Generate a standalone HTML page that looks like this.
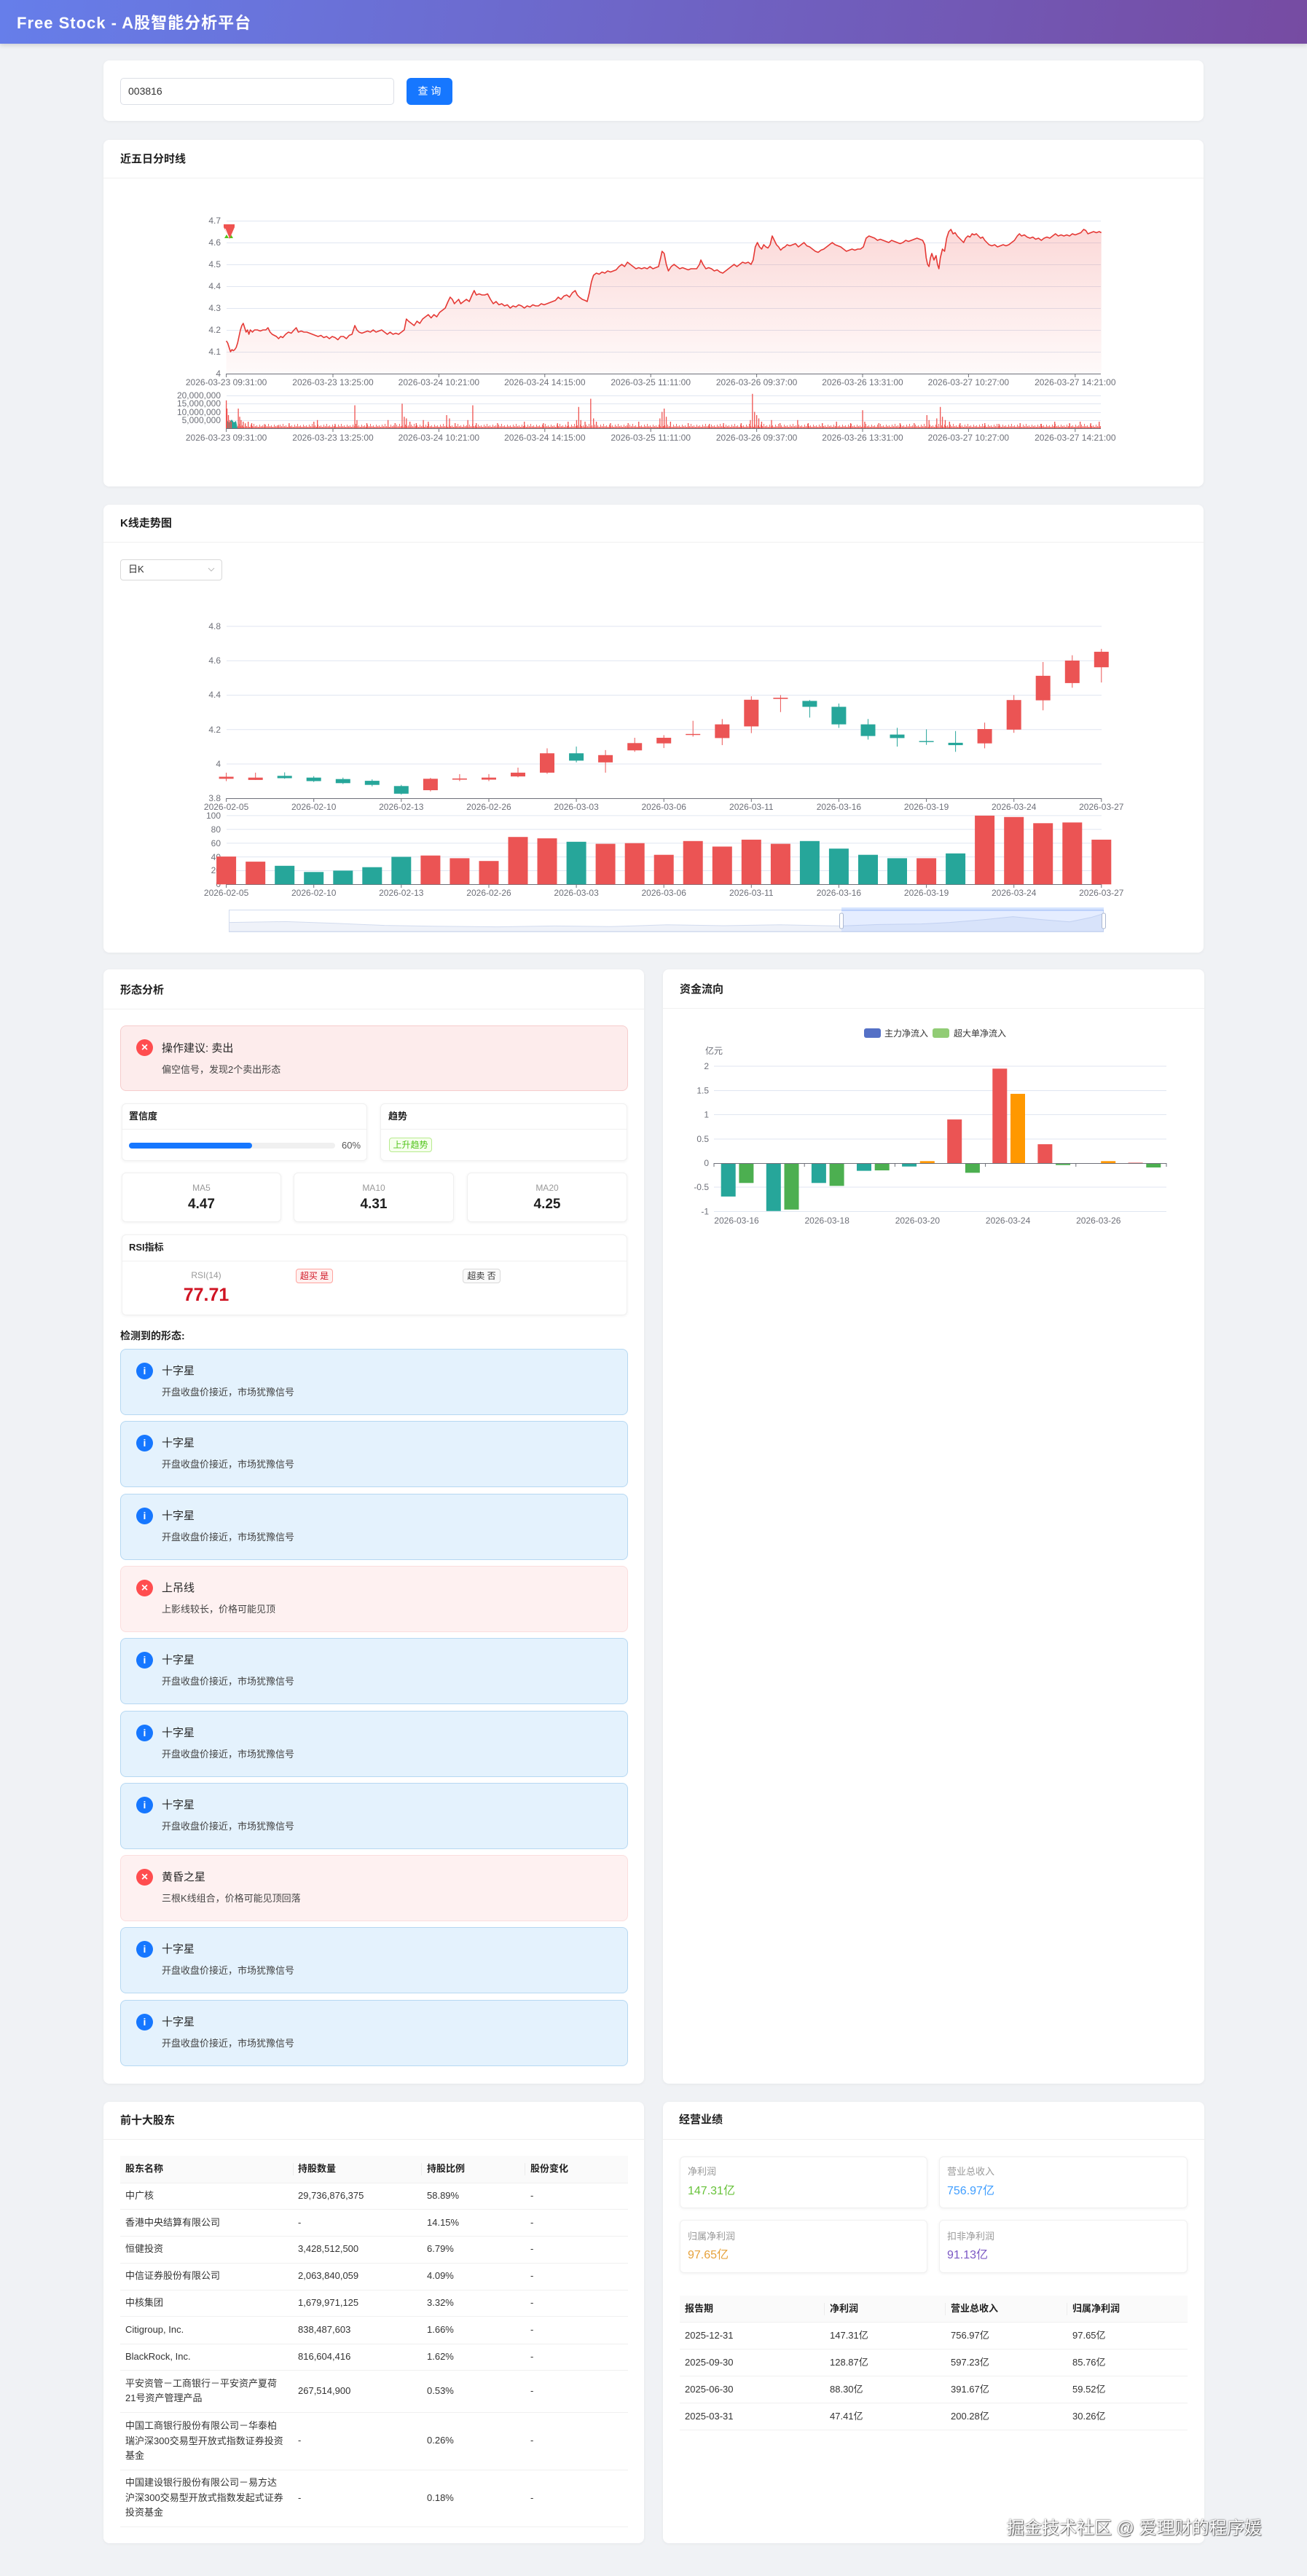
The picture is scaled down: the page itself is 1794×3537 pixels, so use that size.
<!DOCTYPE html>
<html><head><meta charset="utf-8"><title>Free Stock</title>
<style>
html,body{margin:0;padding:0}
body{width:1794px;height:3537px;background:#f0f2f5;position:relative;overflow:hidden;font-family:"Liberation Sans","Noto Sans CJK SC",sans-serif;color:#333}
.a{position:absolute;white-space:nowrap}
.card{position:absolute;background:#fff;border-radius:8px;box-shadow:0 1px 4px rgba(0,0,0,0.05)}
.ct{position:absolute;font-size:15px;font-weight:bold;color:#1f1f1f;line-height:20px;white-space:nowrap}
.hl{position:absolute;height:1px;background:#f0f0f0}
.sub{position:absolute;background:#fff;border:1px solid #f0f0f0;border-radius:6px;box-shadow:0 1px 4px rgba(0,0,0,0.06);box-sizing:border-box}
.box{position:absolute;left:165px;width:697px;height:91px;border-radius:8px;box-sizing:border-box}
.info{background:#e4f2fd;border:1px solid #b6d8f2}
.err{background:#fef1f1;border:1px solid #fbdede}
.ic{position:absolute;width:23px;height:23px;border-radius:50%;color:#fff;text-align:center;line-height:23px;font-size:14px;font-weight:bold}
.ib{background:#1677ff}
.ie{background:#ff4d4f;font-size:16px}
.pt{position:absolute;left:222px;font-size:15px;line-height:20px;color:#262626;white-space:nowrap}
.pd{position:absolute;left:222px;font-size:13px;line-height:20px;color:#444;white-space:nowrap}
.td{position:absolute;font-size:13px;line-height:20px;color:#333;white-space:nowrap}
.th{position:absolute;font-size:13px;line-height:20px;color:#1f1f1f;font-weight:bold;white-space:nowrap}
.tag{position:absolute;font-size:12px;line-height:18px;border-radius:4px;box-sizing:border-box;text-align:center;white-space:nowrap}
</style></head>
<body>

<!-- header -->
<div class="a" style="left:0;top:0;width:1794px;height:60px;background:linear-gradient(100deg,#667eea 0%,#764ba2 100%);box-shadow:0 2px 6px rgba(0,0,0,0.15)"></div>
<div class="a" style="left:23px;top:19px;font-size:22px;font-weight:bold;color:#fff;line-height:26px;letter-spacing:1px">Free Stock - A股智能分析平台</div>

<!-- search card -->
<div class="card" style="left:142px;top:83px;width:1510px;height:83px"></div>
<div class="a" style="left:165px;top:107px;width:376px;height:37px;border:1px solid #dcdfe6;border-radius:5px;box-sizing:border-box;background:#fff"></div>
<div class="a" style="left:176px;top:115px;font-size:14px;line-height:20px;color:#333">003816</div>
<div class="a" style="left:558px;top:107px;width:63px;height:37px;background:#1677ff;border-radius:6px;color:#fff;font-size:14px;line-height:37px;text-align:center">查 询</div>

<!-- intraday card -->
<div class="card" style="left:142px;top:192px;width:1510px;height:476px"></div>
<div class="ct" style="left:165px;top:209px">近五日分时线</div>
<div class="hl" style="left:142px;top:244px;width:1510px"></div>

<!-- K-line card -->
<div class="card" style="left:142px;top:693px;width:1510px;height:615px"></div>
<div class="ct" style="left:165px;top:709px">K线走势图</div>
<div class="hl" style="left:142px;top:744px;width:1510px"></div>
<div class="a" style="left:165px;top:768px;width:140px;height:29px;border:1px solid #d9d9d9;border-radius:4px;box-sizing:border-box;background:#fff"></div>
<div class="a" style="left:176px;top:772px;font-size:13px;line-height:20px;color:#333">日K</div>

<!-- pattern card -->
<div class="card" style="left:142px;top:1331px;width:742px;height:1530px"></div>
<div class="ct" style="left:165px;top:1350px">形态分析</div>
<div class="hl" style="left:142px;top:1385px;width:742px"></div>

<div class="a" style="left:165px;top:1408px;width:697px;height:90px;background:#fdecec;border:1px solid #f6cdcd;border-radius:8px;box-sizing:border-box"></div>
<div class="ic ie" style="left:187px;top:1427px">×</div>
<div class="pt" style="top:1430px">操作建议: 卖出</div>
<div class="pd" style="top:1459px">偏空信号，发现2个卖出形态</div>

<div class="sub" style="left:167px;top:1515px;width:337px;height:79px"></div>
<div class="th" style="left:177px;top:1523px">置信度</div>
<div class="hl" style="left:168px;top:1550px;width:335px"></div>
<div class="a" style="left:177px;top:1569px;width:283px;height:8px;border-radius:4px;background:#f0f0f0"></div>
<div class="a" style="left:177px;top:1569px;width:169px;height:8px;border-radius:4px;background:#1677ff"></div>
<div class="a" style="left:469px;top:1563px;font-size:13px;line-height:20px;color:#555">60%</div>

<div class="sub" style="left:522px;top:1515px;width:339px;height:79px"></div>
<div class="th" style="left:533px;top:1523px">趋势</div>
<div class="hl" style="left:523px;top:1550px;width:337px"></div>
<div class="tag" style="left:534px;top:1562px;width:59px;height:20px;background:#f6ffed;border:1px solid #b7eb8f;color:#52c41a">上升趋势</div>

<div class="sub" style="left:167px;top:1610px;width:219px;height:68px"></div>
<div class="sub" style="left:403px;top:1610px;width:220px;height:68px"></div>
<div class="sub" style="left:641px;top:1610px;width:220px;height:68px"></div>
<div class="a" style="left:167px;top:1622px;width:219px;text-align:center;font-size:12px;line-height:18px;color:#999">MA5</div>
<div class="a" style="left:403px;top:1622px;width:220px;text-align:center;font-size:12px;line-height:18px;color:#999">MA10</div>
<div class="a" style="left:641px;top:1622px;width:220px;text-align:center;font-size:12px;line-height:18px;color:#999">MA20</div>
<div class="a" style="left:167px;top:1642px;width:219px;text-align:center;font-size:19px;font-weight:bold;line-height:24px;color:#1f1f1f">4.47</div>
<div class="a" style="left:403px;top:1642px;width:220px;text-align:center;font-size:19px;font-weight:bold;line-height:24px;color:#1f1f1f">4.31</div>
<div class="a" style="left:641px;top:1642px;width:220px;text-align:center;font-size:19px;font-weight:bold;line-height:24px;color:#1f1f1f">4.25</div>

<div class="sub" style="left:167px;top:1695px;width:694px;height:111px"></div>
<div class="th" style="left:177px;top:1703px">RSI指标</div>
<div class="hl" style="left:168px;top:1731px;width:692px"></div>
<div class="a" style="left:233px;top:1742px;width:100px;text-align:center;font-size:12px;line-height:18px;color:#999">RSI(14)</div>
<div class="a" style="left:223px;top:1763px;width:120px;text-align:center;font-size:25px;font-weight:bold;line-height:30px;color:#cf1322">77.71</div>
<div class="tag" style="left:406px;top:1742px;width:51px;height:20px;background:#fff1f0;border:1px solid #ffa39e;color:#cf1322">超买 是</div>
<div class="tag" style="left:635px;top:1742px;width:52px;height:20px;background:#fafafa;border:1px solid #d9d9d9;color:#333">超卖 否</div>

<div class="a" style="left:165px;top:1824px;font-size:14px;font-weight:bold;line-height:20px;color:#1f1f1f">检测到的形态:</div>

<div class="box info" style="top:1852px"></div><div class="ic ib" style="left:187px;top:1871px">i</div><div class="pt" style="top:1873px">十字星</div><div class="pd" style="top:1902px">开盘收盘价接近，市场犹豫信号</div>
<div class="box info" style="top:1951px"></div><div class="ic ib" style="left:187px;top:1970px">i</div><div class="pt" style="top:1972px">十字星</div><div class="pd" style="top:2001px">开盘收盘价接近，市场犹豫信号</div>
<div class="box info" style="top:2051px"></div><div class="ic ib" style="left:187px;top:2070px">i</div><div class="pt" style="top:2072px">十字星</div><div class="pd" style="top:2101px">开盘收盘价接近，市场犹豫信号</div>
<div class="box err" style="top:2150px"></div><div class="ic ie" style="left:187px;top:2169px">×</div><div class="pt" style="top:2171px">上吊线</div><div class="pd" style="top:2200px">上影线较长，价格可能见顶</div>
<div class="box info" style="top:2249px"></div><div class="ic ib" style="left:187px;top:2268px">i</div><div class="pt" style="top:2270px">十字星</div><div class="pd" style="top:2299px">开盘收盘价接近，市场犹豫信号</div>
<div class="box info" style="top:2349px"></div><div class="ic ib" style="left:187px;top:2368px">i</div><div class="pt" style="top:2370px">十字星</div><div class="pd" style="top:2399px">开盘收盘价接近，市场犹豫信号</div>
<div class="box info" style="top:2448px"></div><div class="ic ib" style="left:187px;top:2467px">i</div><div class="pt" style="top:2469px">十字星</div><div class="pd" style="top:2498px">开盘收盘价接近，市场犹豫信号</div>
<div class="box err" style="top:2547px"></div><div class="ic ie" style="left:187px;top:2566px">×</div><div class="pt" style="top:2568px">黄昏之星</div><div class="pd" style="top:2597px">三根K线组合，价格可能见顶回落</div>
<div class="box info" style="top:2646px"></div><div class="ic ib" style="left:187px;top:2665px">i</div><div class="pt" style="top:2667px">十字星</div><div class="pd" style="top:2696px">开盘收盘价接近，市场犹豫信号</div>
<div class="box info" style="top:2746px"></div><div class="ic ib" style="left:187px;top:2765px">i</div><div class="pt" style="top:2767px">十字星</div><div class="pd" style="top:2796px">开盘收盘价接近，市场犹豫信号</div>

<!-- fund card -->
<div class="card" style="left:910px;top:1331px;width:743px;height:1530px"></div>
<div class="ct" style="left:933px;top:1349px">资金流向</div>
<div class="hl" style="left:910px;top:1384px;width:743px"></div>

<!-- shareholders card -->
<div class="card" style="left:142px;top:2886px;width:742px;height:606px"></div>
<div class="ct" style="left:165px;top:2902px">前十大股东</div>
<div class="hl" style="left:142px;top:2937px;width:742px"></div>
<div class="a" style="left:165px;top:2960px;width:697px;height:37px;background:#fafafa"></div>
<div class="a" style="left:402px;top:2970px;width:1px;height:17px;background:#ececec"></div>
<div class="a" style="left:578px;top:2970px;width:1px;height:17px;background:#ececec"></div>
<div class="a" style="left:720px;top:2970px;width:1px;height:17px;background:#ececec"></div>
<div class="th" style="left:172px;top:2968px">股东名称</div>
<div class="th" style="left:409px;top:2968px">持股数量</div>
<div class="th" style="left:586px;top:2968px">持股比例</div>
<div class="th" style="left:728px;top:2968px">股份变化</div>
<div class="hl" style="left:165px;top:2997px;width:697px"></div>
<div class="hl" style="left:165px;top:3033px;width:697px"></div>
<div class="hl" style="left:165px;top:3070px;width:697px"></div>
<div class="hl" style="left:165px;top:3107px;width:697px"></div>
<div class="hl" style="left:165px;top:3144px;width:697px"></div>
<div class="hl" style="left:165px;top:3180px;width:697px"></div>
<div class="hl" style="left:165px;top:3218px;width:697px"></div>
<div class="hl" style="left:165px;top:3254px;width:697px"></div>
<div class="hl" style="left:165px;top:3312px;width:697px"></div>
<div class="hl" style="left:165px;top:3391px;width:697px"></div>
<div class="hl" style="left:165px;top:3469px;width:697px"></div>

<div class="td" style="left:172px;top:3005px">中广核</div><div class="td" style="left:409px;top:3005px">29,736,876,375</div><div class="td" style="left:586px;top:3005px">58.89%</div><div class="td" style="left:728px;top:3005px">-</div>
<div class="td" style="left:172px;top:3042px">香港中央结算有限公司</div><div class="td" style="left:409px;top:3042px">-</div><div class="td" style="left:586px;top:3042px">14.15%</div><div class="td" style="left:728px;top:3042px">-</div>
<div class="td" style="left:172px;top:3078px">恒健投资</div><div class="td" style="left:409px;top:3078px">3,428,512,500</div><div class="td" style="left:586px;top:3078px">6.79%</div><div class="td" style="left:728px;top:3078px">-</div>
<div class="td" style="left:172px;top:3115px">中信证券股份有限公司</div><div class="td" style="left:409px;top:3115px">2,063,840,059</div><div class="td" style="left:586px;top:3115px">4.09%</div><div class="td" style="left:728px;top:3115px">-</div>
<div class="td" style="left:172px;top:3152px">中核集团</div><div class="td" style="left:409px;top:3152px">1,679,971,125</div><div class="td" style="left:586px;top:3152px">3.32%</div><div class="td" style="left:728px;top:3152px">-</div>
<div class="td" style="left:172px;top:3189px">Citigroup, Inc.</div><div class="td" style="left:409px;top:3189px">838,487,603</div><div class="td" style="left:586px;top:3189px">1.66%</div><div class="td" style="left:728px;top:3189px">-</div>
<div class="td" style="left:172px;top:3226px">BlackRock, Inc.</div><div class="td" style="left:409px;top:3226px">816,604,416</div><div class="td" style="left:586px;top:3226px">1.62%</div><div class="td" style="left:728px;top:3226px">-</div>
<div class="td" style="left:172px;top:3263px">平安资管－工商银行－平安资产夏荷<br>21号资产管理产品</div><div class="td" style="left:409px;top:3273px">267,514,900</div><div class="td" style="left:586px;top:3273px">0.53%</div><div class="td" style="left:728px;top:3273px">-</div>
<div class="td" style="left:172px;top:3321px;line-height:20.5px">中国工商银行股份有限公司－华泰柏<br>瑞沪深300交易型开放式指数证券投资<br>基金</div><div class="td" style="left:409px;top:3341px">-</div><div class="td" style="left:586px;top:3341px">0.26%</div><div class="td" style="left:728px;top:3341px">-</div>
<div class="td" style="left:172px;top:3399px;line-height:20.5px">中国建设银行股份有限公司－易方达<br>沪深300交易型开放式指数发起式证券<br>投资基金</div><div class="td" style="left:409px;top:3420px">-</div><div class="td" style="left:586px;top:3420px">0.18%</div><div class="td" style="left:728px;top:3420px">-</div>

<!-- performance card -->
<div class="card" style="left:910px;top:2886px;width:743px;height:606px"></div>
<div class="ct" style="left:932px;top:2901px">经营业绩</div>
<div class="hl" style="left:910px;top:2937px;width:743px"></div>
<div class="sub" style="left:933px;top:2961px;width:340px;height:71px"></div>
<div class="sub" style="left:1289px;top:2961px;width:341px;height:71px"></div>
<div class="sub" style="left:933px;top:3048px;width:340px;height:73px"></div>
<div class="sub" style="left:1289px;top:3048px;width:341px;height:73px"></div>
<div class="a" style="left:944px;top:2972px;font-size:13px;line-height:20px;color:#999">净利润</div>
<div class="a" style="left:944px;top:2998px;font-size:16px;line-height:22px;color:#67c23a">147.31亿</div>
<div class="a" style="left:1300px;top:2972px;font-size:13px;line-height:20px;color:#999">营业总收入</div>
<div class="a" style="left:1300px;top:2998px;font-size:16px;line-height:22px;color:#409eff">756.97亿</div>
<div class="a" style="left:944px;top:3061px;font-size:13px;line-height:20px;color:#999">归属净利润</div>
<div class="a" style="left:944px;top:3086px;font-size:16px;line-height:22px;color:#e6a23c">97.65亿</div>
<div class="a" style="left:1300px;top:3061px;font-size:13px;line-height:20px;color:#999">扣非净利润</div>
<div class="a" style="left:1300px;top:3086px;font-size:16px;line-height:22px;color:#7b57c4">91.13亿</div>

<div class="a" style="left:933px;top:3152px;width:697px;height:36px;background:#fafafa"></div>
<div class="a" style="left:1131px;top:3162px;width:1px;height:17px;background:#ececec"></div>
<div class="a" style="left:1297px;top:3162px;width:1px;height:17px;background:#ececec"></div>
<div class="a" style="left:1464px;top:3162px;width:1px;height:17px;background:#ececec"></div>
<div class="th" style="left:940px;top:3160px">报告期</div>
<div class="th" style="left:1139px;top:3160px">净利润</div>
<div class="th" style="left:1305px;top:3160px">营业总收入</div>
<div class="th" style="left:1472px;top:3160px">归属净利润</div>
<div class="hl" style="left:933px;top:3188px;width:697px"></div>
<div class="hl" style="left:933px;top:3225px;width:697px"></div>
<div class="hl" style="left:933px;top:3262px;width:697px"></div>
<div class="hl" style="left:933px;top:3299px;width:697px"></div>
<div class="hl" style="left:933px;top:3336px;width:697px"></div>
<div class="td" style="left:940px;top:3197px">2025-12-31</div><div class="td" style="left:1139px;top:3197px">147.31亿</div><div class="td" style="left:1305px;top:3197px">756.97亿</div><div class="td" style="left:1472px;top:3197px">97.65亿</div>
<div class="td" style="left:940px;top:3234px">2025-09-30</div><div class="td" style="left:1139px;top:3234px">128.87亿</div><div class="td" style="left:1305px;top:3234px">597.23亿</div><div class="td" style="left:1472px;top:3234px">85.76亿</div>
<div class="td" style="left:940px;top:3271px">2025-06-30</div><div class="td" style="left:1139px;top:3271px">88.30亿</div><div class="td" style="left:1305px;top:3271px">391.67亿</div><div class="td" style="left:1472px;top:3271px">59.52亿</div>
<div class="td" style="left:940px;top:3308px">2025-03-31</div><div class="td" style="left:1139px;top:3308px">47.41亿</div><div class="td" style="left:1305px;top:3308px">200.28亿</div><div class="td" style="left:1472px;top:3308px">30.26亿</div>

<!-- charts -->
<svg class="a" style="left:0;top:0" width="1794" height="3537" viewBox="0 0 1794 3537" font-family="Liberation Sans, sans-serif" font-size="12">
<defs>
<linearGradient id="ag" x1="0" y1="0" x2="0" y2="1">
<stop offset="0" stop-color="#ef5350" stop-opacity="0.03"/>
<stop offset="1" stop-color="#ef5350" stop-opacity="0.22"/>
</linearGradient>
<pattern id="vb" x="0" y="580" width="20" height="8" patternUnits="userSpaceOnUse">
<rect x="0" y="4" width="1" height="4" fill="#ef5350"/><rect x="2" y="6" width="1" height="2" fill="#ef5350"/>
<rect x="4" y="3" width="1" height="5" fill="#ef5350"/><rect x="6" y="5" width="1" height="3" fill="#ef5350"/>
<rect x="8" y="2" width="1" height="6" fill="#ef5350"/><rect x="10" y="5" width="1" height="3" fill="#ef5350"/>
<rect x="12" y="4" width="1" height="4" fill="#ef5350"/><rect x="14" y="6" width="1" height="2" fill="#ef5350"/>
<rect x="16" y="3" width="1" height="5" fill="#ef5350"/><rect x="18" y="5" width="1" height="3" fill="#ef5350"/>
</pattern>
</defs>

<!-- ===== intraday ===== -->
<g stroke="#e0e6f1" stroke-width="1">
<line x1="311" y1="303.5" x2="1511" y2="303.5"/><line x1="311" y1="333.5" x2="1511" y2="333.5"/>
<line x1="311" y1="363.5" x2="1511" y2="363.5"/><line x1="311" y1="393.5" x2="1511" y2="393.5"/>
<line x1="311" y1="423.5" x2="1511" y2="423.5"/><line x1="311" y1="453.5" x2="1511" y2="453.5"/>
<line x1="311" y1="483.5" x2="1511" y2="483.5"/>
<line x1="311" y1="543.5" x2="1511" y2="543.5"/><line x1="311" y1="554.5" x2="1511" y2="554.5"/>
<line x1="311" y1="566.5" x2="1511" y2="566.5"/><line x1="311" y1="577.5" x2="1511" y2="577.5"/>
</g>
<g fill="#6e7079" text-anchor="end">
<text x="303" y="307">4.7</text><text x="303" y="337">4.6</text><text x="303" y="367">4.5</text>
<text x="303" y="397">4.4</text><text x="303" y="427">4.3</text><text x="303" y="457">4.2</text>
<text x="303" y="487">4.1</text><text x="303" y="517">4</text>
<text x="303" y="547">20,000,000</text><text x="303" y="558">15,000,000</text>
<text x="303" y="570">10,000,000</text><text x="303" y="581">5,000,000</text>
</g>
<g transform="matrix(0.9694 0 0 -300 140 1713)">
<path fill="url(#ag)" d="M176,4.15 L178,4.14 180,4.12 182,4.10 184,4.11 186,4.105 188,4.11 190,4.12 192,4.14 194,4.17 196,4.20 198,4.22 200,4.23 202,4.21 204,4.19 206,4.20 208,4.18 210,4.20 213,4.19 216,4.20 220,4.20 224,4.195 228,4.20 232,4.20 235,4.21 238,4.19 241,4.18 244,4.175 247,4.17 250,4.16 253,4.17 256,4.165 260,4.18 264,4.19 268,4.185 272,4.20 275,4.21 278,4.19 282,4.195 286,4.19 290,4.19 294,4.185 298,4.18 302,4.175 306,4.17 310,4.175 314,4.165 318,4.17 322,4.16 326,4.17 330,4.165 334,4.155 338,4.17 342,4.17 346,4.16 350,4.175 354,4.18 358,4.22 361,4.20 364,4.19 368,4.185 372,4.19 376,4.195 380,4.19 384,4.20 388,4.19 392,4.195 396,4.20 400,4.19 404,4.18 408,4.19 412,4.18 416,4.185 420,4.18 424,4.19 428,4.20 431,4.25 434,4.24 438,4.23 442,4.22 446,4.24 450,4.23 454,4.25 458,4.26 462,4.27 466,4.255 470,4.27 474,4.26 478,4.28 482,4.29 486,4.30 490,4.33 493,4.35 496,4.34 499,4.32 502,4.33 505,4.34 508,4.32 512,4.33 516,4.34 520,4.33 524,4.36 527,4.38 530,4.36 534,4.365 538,4.36 542,4.36 546,4.365 550,4.34 554,4.32 558,4.33 562,4.315 566,4.32 570,4.31 574,4.315 578,4.30 582,4.31 586,4.305 590,4.315 594,4.31 598,4.30 602,4.31 606,4.305 610,4.315 614,4.31 618,4.31 622,4.32 626,4.315 630,4.32 634,4.325 638,4.33 642,4.335 646,4.35 650,4.34 654,4.355 658,4.36 662,4.35 666,4.37 670,4.38 673,4.36 676,4.35 680,4.34 684,4.335 687,4.33 690,4.37 693,4.42 696,4.45 700,4.46 704,4.455 708,4.465 712,4.46 716,4.47 720,4.465 724,4.47 728,4.475 732,4.49 736,4.50 740,4.49 744,4.51 748,4.50 752,4.49 756,4.48 760,4.485 764,4.48 768,4.485 772,4.48 776,4.49 780,4.48 784,4.485 788,4.49 791,4.53 793,4.56 796,4.55 799,4.50 802,4.47 806,4.49 810,4.50 814,4.49 818,4.48 822,4.485 826,4.48 830,4.475 834,4.48 838,4.48 842,4.48 846,4.50 848,4.52 851,4.50 855,4.48 859,4.485 863,4.48 867,4.47 871,4.475 875,4.465 879,4.46 883,4.47 887,4.48 891,4.49 895,4.50 899,4.49 903,4.50 907,4.51 911,4.505 915,4.51 919,4.50 922,4.52 925,4.58 928,4.60 931,4.58 934,4.57 937,4.59 940,4.58 943,4.575 946,4.59 949,4.63 952,4.61 955,4.59 958,4.58 961,4.565 964,4.575 967,4.58 970,4.59 974,4.585 978,4.59 982,4.595 986,4.58 990,4.59 994,4.60 998,4.585 1002,4.58 1006,4.57 1010,4.56 1014,4.555 1018,4.565 1022,4.57 1026,4.58 1030,4.59 1034,4.60 1038,4.59 1042,4.585 1046,4.58 1050,4.57 1054,4.56 1058,4.565 1062,4.57 1066,4.565 1070,4.57 1074,4.57 1078,4.58 1082,4.62 1086,4.63 1090,4.625 1094,4.62 1098,4.61 1102,4.615 1106,4.61 1110,4.605 1114,4.60 1118,4.61 1122,4.605 1126,4.60 1130,4.595 1134,4.60 1138,4.61 1142,4.605 1146,4.61 1150,4.615 1154,4.62 1158,4.615 1162,4.61 1165,4.59 1167,4.53 1169,4.50 1171,4.49 1173,4.53 1175,4.55 1178,4.52 1181,4.54 1183,4.50 1185,4.48 1187,4.53 1190,4.57 1193,4.56 1196,4.62 1199,4.65 1202,4.66 1205,4.64 1208,4.645 1211,4.63 1214,4.62 1217,4.61 1220,4.60 1223,4.62 1226,4.63 1229,4.625 1232,4.64 1235,4.635 1238,4.64 1241,4.63 1244,4.62 1247,4.625 1250,4.61 1253,4.60 1256,4.59 1260,4.585 1264,4.59 1268,4.58 1272,4.585 1276,4.59 1280,4.585 1284,4.59 1288,4.60 1292,4.61 1296,4.63 1299,4.64 1302,4.63 1306,4.635 1310,4.625 1314,4.62 1318,4.625 1322,4.615 1326,4.62 1330,4.61 1334,4.62 1338,4.625 1342,4.62 1346,4.63 1350,4.64 1354,4.63 1358,4.635 1362,4.63 1366,4.635 1370,4.63 1374,4.64 1378,4.635 1382,4.64 1386,4.645 1390,4.66 1393,4.655 1396,4.64 1400,4.645 1404,4.65 1408,4.645 1412,4.65 1415,4.645 L1415,4 L176,4 Z"/>
<path fill="none" stroke="#e53935" stroke-width="1.6" vector-effect="non-scaling-stroke" stroke-linejoin="round" d="M176,4.15 L178,4.14 180,4.12 182,4.10 184,4.11 186,4.105 188,4.11 190,4.12 192,4.14 194,4.17 196,4.20 198,4.22 200,4.23 202,4.21 204,4.19 206,4.20 208,4.18 210,4.20 213,4.19 216,4.20 220,4.20 224,4.195 228,4.20 232,4.20 235,4.21 238,4.19 241,4.18 244,4.175 247,4.17 250,4.16 253,4.17 256,4.165 260,4.18 264,4.19 268,4.185 272,4.20 275,4.21 278,4.19 282,4.195 286,4.19 290,4.19 294,4.185 298,4.18 302,4.175 306,4.17 310,4.175 314,4.165 318,4.17 322,4.16 326,4.17 330,4.165 334,4.155 338,4.17 342,4.17 346,4.16 350,4.175 354,4.18 358,4.22 361,4.20 364,4.19 368,4.185 372,4.19 376,4.195 380,4.19 384,4.20 388,4.19 392,4.195 396,4.20 400,4.19 404,4.18 408,4.19 412,4.18 416,4.185 420,4.18 424,4.19 428,4.20 431,4.25 434,4.24 438,4.23 442,4.22 446,4.24 450,4.23 454,4.25 458,4.26 462,4.27 466,4.255 470,4.27 474,4.26 478,4.28 482,4.29 486,4.30 490,4.33 493,4.35 496,4.34 499,4.32 502,4.33 505,4.34 508,4.32 512,4.33 516,4.34 520,4.33 524,4.36 527,4.38 530,4.36 534,4.365 538,4.36 542,4.36 546,4.365 550,4.34 554,4.32 558,4.33 562,4.315 566,4.32 570,4.31 574,4.315 578,4.30 582,4.31 586,4.305 590,4.315 594,4.31 598,4.30 602,4.31 606,4.305 610,4.315 614,4.31 618,4.31 622,4.32 626,4.315 630,4.32 634,4.325 638,4.33 642,4.335 646,4.35 650,4.34 654,4.355 658,4.36 662,4.35 666,4.37 670,4.38 673,4.36 676,4.35 680,4.34 684,4.335 687,4.33 690,4.37 693,4.42 696,4.45 700,4.46 704,4.455 708,4.465 712,4.46 716,4.47 720,4.465 724,4.47 728,4.475 732,4.49 736,4.50 740,4.49 744,4.51 748,4.50 752,4.49 756,4.48 760,4.485 764,4.48 768,4.485 772,4.48 776,4.49 780,4.48 784,4.485 788,4.49 791,4.53 793,4.56 796,4.55 799,4.50 802,4.47 806,4.49 810,4.50 814,4.49 818,4.48 822,4.485 826,4.48 830,4.475 834,4.48 838,4.48 842,4.48 846,4.50 848,4.52 851,4.50 855,4.48 859,4.485 863,4.48 867,4.47 871,4.475 875,4.465 879,4.46 883,4.47 887,4.48 891,4.49 895,4.50 899,4.49 903,4.50 907,4.51 911,4.505 915,4.51 919,4.50 922,4.52 925,4.58 928,4.60 931,4.58 934,4.57 937,4.59 940,4.58 943,4.575 946,4.59 949,4.63 952,4.61 955,4.59 958,4.58 961,4.565 964,4.575 967,4.58 970,4.59 974,4.585 978,4.59 982,4.595 986,4.58 990,4.59 994,4.60 998,4.585 1002,4.58 1006,4.57 1010,4.56 1014,4.555 1018,4.565 1022,4.57 1026,4.58 1030,4.59 1034,4.60 1038,4.59 1042,4.585 1046,4.58 1050,4.57 1054,4.56 1058,4.565 1062,4.57 1066,4.565 1070,4.57 1074,4.57 1078,4.58 1082,4.62 1086,4.63 1090,4.625 1094,4.62 1098,4.61 1102,4.615 1106,4.61 1110,4.605 1114,4.60 1118,4.61 1122,4.605 1126,4.60 1130,4.595 1134,4.60 1138,4.61 1142,4.605 1146,4.61 1150,4.615 1154,4.62 1158,4.615 1162,4.61 1165,4.59 1167,4.53 1169,4.50 1171,4.49 1173,4.53 1175,4.55 1178,4.52 1181,4.54 1183,4.50 1185,4.48 1187,4.53 1190,4.57 1193,4.56 1196,4.62 1199,4.65 1202,4.66 1205,4.64 1208,4.645 1211,4.63 1214,4.62 1217,4.61 1220,4.60 1223,4.62 1226,4.63 1229,4.625 1232,4.64 1235,4.635 1238,4.64 1241,4.63 1244,4.62 1247,4.625 1250,4.61 1253,4.60 1256,4.59 1260,4.585 1264,4.59 1268,4.58 1272,4.585 1276,4.59 1280,4.585 1284,4.59 1288,4.60 1292,4.61 1296,4.63 1299,4.64 1302,4.63 1306,4.635 1310,4.625 1314,4.62 1318,4.625 1322,4.615 1326,4.62 1330,4.61 1334,4.62 1338,4.625 1342,4.62 1346,4.63 1350,4.64 1354,4.63 1358,4.635 1362,4.63 1366,4.635 1370,4.63 1374,4.64 1378,4.635 1382,4.64 1386,4.645 1390,4.66 1393,4.655 1396,4.64 1400,4.645 1404,4.65 1408,4.645 1412,4.65 1415,4.645"/>
</g>
<!-- markers -->
<polygon points="308,327 311,322 314,327" fill="#52c41a"/><polygon points="314,327 317,322 320,327" fill="#52c41a"/>
<rect x="307" y="308" width="15" height="4" fill="#ef5350"/>
<polygon points="307,312 322,312 315,328" fill="#ef5350"/>
<polyline points="309,314 314,326" stroke="#fff" stroke-width="1" fill="none"/>
<!-- axis -->
<line x1="311" y1="513.5" x2="1511" y2="513.5" stroke="#6e7079"/>
<g stroke="#6e7079"><line x1="310.6" y1="513" x2="310.6" y2="518"/><line x1="457" y1="513" x2="457" y2="518"/><line x1="602.4" y1="513" x2="602.4" y2="518"/><line x1="747.8" y1="513" x2="747.8" y2="518"/><line x1="893.2" y1="513" x2="893.2" y2="518"/><line x1="1038.6" y1="513" x2="1038.6" y2="518"/><line x1="1184" y1="513" x2="1184" y2="518"/><line x1="1329.4" y1="513" x2="1329.4" y2="518"/><line x1="1475.8" y1="513" x2="1475.8" y2="518"/></g>
<g fill="#6e7079" text-anchor="middle">
<text x="310.6" y="529">2026-03-23 09:31:00</text><text x="457" y="529">2026-03-23 13:25:00</text><text x="602.4" y="529">2026-03-24 10:21:00</text><text x="747.8" y="529">2026-03-24 14:15:00</text><text x="893.2" y="529">2026-03-25 11:11:00</text><text x="1038.6" y="529">2026-03-26 09:37:00</text><text x="1184" y="529">2026-03-26 13:31:00</text><text x="1329.4" y="529">2026-03-27 10:27:00</text><text x="1475.8" y="529">2026-03-27 14:21:00</text>
<text x="310.6" y="605">2026-03-23 09:31:00</text><text x="457" y="605">2026-03-23 13:25:00</text><text x="602.4" y="605">2026-03-24 10:21:00</text><text x="747.8" y="605">2026-03-24 14:15:00</text><text x="893.2" y="605">2026-03-25 11:11:00</text><text x="1038.6" y="605">2026-03-26 09:37:00</text><text x="1184" y="605">2026-03-26 13:31:00</text><text x="1329.4" y="605">2026-03-27 10:27:00</text><text x="1475.8" y="605">2026-03-27 14:21:00</text>
</g>
<!-- volume -->
<rect x="311" y="580" width="1200" height="8" fill="url(#vb)" opacity="0.85"/>
<rect x="311" y="586" width="1200" height="2" fill="#ef5350" opacity="0.6"/>
<polygon points="312,588 312,578 315,580 318,576 321,580 324,578 326,588" fill="#26a69a"/>
<g transform="matrix(0.9694 0 0 1 140 0)">
<path fill="none" stroke="#ef5350" stroke-width="1.3" vector-effect="non-scaling-stroke" d="M176,588V549.75M177,588V561M179,588V570M181,588V576.75M183,588V579M193,588V561M195,588V572.25M197,588V576.75M200,588V579M203,588V581.25M207,588V579M212,588V581M230,588V582.4M250,588V583.5M265,588V581M300,588V579M305,588V576.75M330,588V582M358,588V556.5M361,588V576.75M375,588V581M405,588V576.75M415,588V581M425,588V554.25M428,588V572.25M431,588V574.5M436,588V579M445,588V581M455,588V576.75M462,588V579M488,588V570M492,588V574.5M500,588V581M518,588V576.75M525,588V556.5M530,588V581M560,588V581M598,588V579M625,588V581M645,588V581M660,588V579M672,588V576.75M675,588V558.75M678,588V576.75M684,588V579M692,588V547.5M696,588V574.5M700,588V579M720,588V581M745,588V581M760,588V579M790,588V574.5M793,588V565.5M796,588V561M799,588V572.25M805,588V579M830,588V581M860,588V582M880,588V581M905,588V581M918,588V576.75M921,588V540.75M924,588V565.5M927,588V570M930,588V574.5M934,588V579M948,588V576.75M960,588V581M985,588V576.75M1000,588V581M1020,588V581M1040,588V579M1060,588V581M1077,588V563.25M1080,588V579M1100,588V581M1130,588V581M1150,588V581M1168,588V570M1171,588V576.75M1182,588V574.5M1187,588V558.75M1190,588V572.25M1194,588V576.75M1200,588V579M1215,588V581M1250,588V581M1270,588V582M1300,588V581M1330,588V582M1349,588V579M1370,588V581M1385,588V579M1400,588V581M1412,588V579"/>
</g>
<line x1="311" y1="588.5" x2="1511" y2="588.5" stroke="#6e7079"/>
<g stroke="#6e7079"><line x1="310.6" y1="588" x2="310.6" y2="593"/><line x1="457" y1="588" x2="457" y2="593"/><line x1="602.4" y1="588" x2="602.4" y2="593"/><line x1="747.8" y1="588" x2="747.8" y2="593"/><line x1="893.2" y1="588" x2="893.2" y2="593"/><line x1="1038.6" y1="588" x2="1038.6" y2="593"/><line x1="1184" y1="588" x2="1184" y2="593"/><line x1="1329.4" y1="588" x2="1329.4" y2="593"/><line x1="1475.8" y1="588" x2="1475.8" y2="593"/></g>

<!-- ===== K line ===== -->
<polyline points="286,780 290,784 294,780" fill="none" stroke="#bbb" stroke-width="1"/>
<g stroke="#e0e6f1">
<line x1="311" y1="860" x2="1512" y2="860"/><line x1="311" y1="907.2" x2="1512" y2="907.2"/>
<line x1="311" y1="954.5" x2="1512" y2="954.5"/><line x1="311" y1="1001.7" x2="1512" y2="1001.7"/>
<line x1="311" y1="1049" x2="1512" y2="1049"/>
<line x1="311" y1="1119.9" x2="1512" y2="1119.9"/><line x1="311" y1="1138.8" x2="1512" y2="1138.8"/>
<line x1="311" y1="1157.7" x2="1512" y2="1157.7"/><line x1="311" y1="1176.6" x2="1512" y2="1176.6"/>
<line x1="311" y1="1195.5" x2="1512" y2="1195.5"/>
</g>
<g fill="#6e7079" text-anchor="end">
<text x="303" y="864">4.8</text><text x="303" y="911">4.6</text><text x="303" y="958">4.4</text>
<text x="303" y="1006">4.2</text><text x="303" y="1053">4</text><text x="303" y="1100">3.8</text>
<text x="303" y="1124">100</text><text x="303" y="1143">80</text><text x="303" y="1162">60</text>
<text x="303" y="1181">40</text><text x="303" y="1199">20</text><text x="303" y="1218">0</text>
</g>
<line x1="311" y1="1096.5" x2="1512" y2="1096.5" stroke="#6e7079"/>
<line x1="311" y1="1214.5" x2="1512" y2="1214.5" stroke="#6e7079"/>
<g stroke="#6e7079">
<line x1="310.6" y1="1096" x2="310.6" y2="1101"/><line x1="430.7" y1="1096" x2="430.7" y2="1101"/><line x1="550.8" y1="1096" x2="550.8" y2="1101"/><line x1="671" y1="1096" x2="671" y2="1101"/><line x1="791.1" y1="1096" x2="791.1" y2="1101"/><line x1="911.2" y1="1096" x2="911.2" y2="1101"/><line x1="1031.3" y1="1096" x2="1031.3" y2="1101"/><line x1="1151.4" y1="1096" x2="1151.4" y2="1101"/><line x1="1271.6" y1="1096" x2="1271.6" y2="1101"/><line x1="1391.7" y1="1096" x2="1391.7" y2="1101"/><line x1="1511.8" y1="1096" x2="1511.8" y2="1101"/>
<line x1="310.6" y1="1214" x2="310.6" y2="1219"/><line x1="430.7" y1="1214" x2="430.7" y2="1219"/><line x1="550.8" y1="1214" x2="550.8" y2="1219"/><line x1="671" y1="1214" x2="671" y2="1219"/><line x1="791.1" y1="1214" x2="791.1" y2="1219"/><line x1="911.2" y1="1214" x2="911.2" y2="1219"/><line x1="1031.3" y1="1214" x2="1031.3" y2="1219"/><line x1="1151.4" y1="1214" x2="1151.4" y2="1219"/><line x1="1271.6" y1="1214" x2="1271.6" y2="1219"/><line x1="1391.7" y1="1214" x2="1391.7" y2="1219"/><line x1="1511.8" y1="1214" x2="1511.8" y2="1219"/>
</g>
<g fill="#6e7079" text-anchor="middle">
<text x="310.6" y="1112">2026-02-05</text><text x="430.7" y="1112">2026-02-10</text><text x="550.8" y="1112">2026-02-13</text><text x="671" y="1112">2026-02-26</text><text x="791.1" y="1112">2026-03-03</text><text x="911.2" y="1112">2026-03-06</text><text x="1031.3" y="1112">2026-03-11</text><text x="1151.4" y="1112">2026-03-16</text><text x="1271.6" y="1112">2026-03-19</text><text x="1391.7" y="1112">2026-03-24</text><text x="1511.8" y="1112">2026-03-27</text>
<text x="310.6" y="1230">2026-02-05</text><text x="430.7" y="1230">2026-02-10</text><text x="550.8" y="1230">2026-02-13</text><text x="671" y="1230">2026-02-26</text><text x="791.1" y="1230">2026-03-03</text><text x="911.2" y="1230">2026-03-06</text><text x="1031.3" y="1230">2026-03-11</text><text x="1151.4" y="1230">2026-03-16</text><text x="1271.6" y="1230">2026-03-19</text><text x="1391.7" y="1230">2026-03-24</text><text x="1511.8" y="1230">2026-03-27</text>
</g>
<!-- candles red -->
<g stroke="#eb5454" stroke-width="1">
<line x1="310.6" y1="1060.9" x2="310.6" y2="1072.5"/><line x1="350.7" y1="1060.9" x2="350.7" y2="1070.9"/><line x1="590.9" y1="1068.1" x2="590.9" y2="1086.6"/><line x1="630.9" y1="1062.9" x2="630.9" y2="1072.5"/><line x1="671" y1="1062.9" x2="671" y2="1072.5"/><line x1="711" y1="1054" x2="711" y2="1067.3"/><line x1="751" y1="1027.5" x2="751" y2="1062.5"/><line x1="831.1" y1="1029.9" x2="831.1" y2="1060.9"/><line x1="871.2" y1="1013" x2="871.2" y2="1032.3"/><line x1="911.2" y1="1009.4" x2="911.2" y2="1027.1"/><line x1="951.2" y1="989.7" x2="951.2" y2="1011.4"/><line x1="991.3" y1="987.3" x2="991.3" y2="1023.1"/><line x1="1031.3" y1="956" x2="1031.3" y2="1006.6"/><line x1="1071.4" y1="954.4" x2="1071.4" y2="977.7"/><line x1="1351.6" y1="992.2" x2="1351.6" y2="1027.5"/><line x1="1391.7" y1="954.4" x2="1391.7" y2="1006.2"/><line x1="1431.7" y1="909" x2="1431.7" y2="975.3"/><line x1="1471.8" y1="899.7" x2="1471.8" y2="944.3"/><line x1="1511.8" y1="890.9" x2="1511.8" y2="937.1"/>
</g>
<g fill="#eb5454">
<rect x="300.6" y="1066.5" width="20" height="2.8"/><rect x="340.7" y="1067.7" width="20" height="3.2"/><rect x="580.9" y="1069.3" width="20" height="15.7"/><rect x="620.9" y="1068.9" width="20" height="1.6"/><rect x="661" y="1067.7" width="20" height="2.8"/><rect x="701" y="1060.9" width="20" height="5.2"/><rect x="741" y="1034.3" width="20" height="26.6"/><rect x="821.1" y="1036.8" width="20" height="10"/><rect x="861.2" y="1020.3" width="20" height="10"/><rect x="901.2" y="1013" width="20" height="7.7"/><rect x="941.2" y="1007.8" width="20" height="1.4"/><rect x="981.3" y="994.6" width="20" height="18.8"/><rect x="1021.3" y="960.8" width="20" height="36.6"/><rect x="1061.4" y="958" width="20" height="1.6"/><rect x="1341.6" y="1001" width="20" height="19.7"/><rect x="1381.7" y="961.2" width="20" height="40.6"/><rect x="1421.7" y="927.9" width="20" height="33.7"/><rect x="1461.8" y="907" width="20" height="30.9"/><rect x="1501.8" y="894.9" width="20" height="21.3"/>
</g>
<!-- candles green -->
<g stroke="#26a69a" stroke-width="1">
<line x1="390.7" y1="1060.5" x2="390.7" y2="1069.3"/><line x1="430.7" y1="1065.7" x2="430.7" y2="1073.7"/><line x1="470.8" y1="1067.7" x2="470.8" y2="1076.5"/><line x1="510.8" y1="1070.1" x2="510.8" y2="1079.7"/><line x1="550.8" y1="1077.7" x2="550.8" y2="1091"/><line x1="791.1" y1="1025.1" x2="791.1" y2="1046.8"/><line x1="1111.4" y1="961.2" x2="1111.4" y2="985.3"/><line x1="1151.4" y1="966" x2="1151.4" y2="999.4"/><line x1="1191.5" y1="987.3" x2="1191.5" y2="1015.5"/><line x1="1231.5" y1="999.4" x2="1231.5" y2="1025.1"/><line x1="1271.6" y1="1001.4" x2="1271.6" y2="1022.7"/><line x1="1311.6" y1="1003.8" x2="1311.6" y2="1032.3"/>
</g>
<g fill="#26a69a">
<rect x="380.7" y="1065.3" width="20" height="3.2"/><rect x="420.7" y="1067.7" width="20" height="4.8"/><rect x="460.8" y="1069.7" width="20" height="5.6"/><rect x="500.8" y="1072.1" width="20" height="5.6"/><rect x="540.8" y="1079.3" width="20" height="10.5"/><rect x="781.1" y="1034.3" width="20" height="10.1"/><rect x="1101.4" y="962.4" width="20" height="8.1"/><rect x="1141.4" y="970.5" width="20" height="24.1"/><rect x="1181.5" y="994.6" width="20" height="16"/><rect x="1221.5" y="1008.6" width="20" height="4.8"/><rect x="1261.6" y="1017.5" width="20" height="1.4"/><rect x="1301.6" y="1019.9" width="20" height="3.2"/>
</g>
<!-- volume bars -->
<g fill="#eb5454">
<rect x="297.1" y="1176.1" width="27" height="38.2"/><rect x="337.2" y="1183.1" width="27" height="31.2"/><rect x="577.4" y="1174.7" width="27" height="39.6"/><rect x="617.4" y="1178.4" width="27" height="35.9"/><rect x="657.5" y="1182.2" width="27" height="32.1"/><rect x="697.5" y="1149.2" width="27" height="65.1"/><rect x="737.5" y="1151.1" width="27" height="63.2"/><rect x="817.6" y="1158.6" width="27" height="55.7"/><rect x="857.7" y="1157.7" width="27" height="56.6"/><rect x="897.7" y="1173.7" width="27" height="40.6"/><rect x="937.7" y="1154.8" width="27" height="59.5"/><rect x="977.8" y="1162.4" width="27" height="51.9"/><rect x="1017.8" y="1152.9" width="27" height="61.4"/><rect x="1057.9" y="1158.6" width="27" height="55.7"/><rect x="1258.1" y="1178.4" width="27" height="35.9"/><rect x="1338.1" y="1119.9" width="27" height="94.4"/><rect x="1378.2" y="1121.8" width="27" height="92.5"/><rect x="1418.2" y="1130.3" width="27" height="84"/><rect x="1458.3" y="1129.3" width="27" height="85"/><rect x="1498.3" y="1152.9" width="27" height="61.4"/>
</g>
<g fill="#26a69a">
<rect x="377.2" y="1188.8" width="27" height="25.5"/><rect x="417.2" y="1197.3" width="27" height="17"/><rect x="457.3" y="1195.4" width="27" height="18.9"/><rect x="497.3" y="1190.7" width="27" height="23.6"/><rect x="537.3" y="1176.5" width="27" height="37.8"/><rect x="777.6" y="1155.8" width="27" height="58.5"/><rect x="1097.9" y="1154.8" width="27" height="59.5"/><rect x="1137.9" y="1165.2" width="27" height="49.1"/><rect x="1178" y="1173.7" width="27" height="40.6"/><rect x="1218" y="1178.4" width="27" height="35.9"/><rect x="1298.1" y="1171.8" width="27" height="42.5"/>
</g>
<!-- data zoom slider -->
<rect x="314.5" y="1249.5" width="1200" height="30" fill="none" stroke="#d2dbee" stroke-width="1"/>
<path d="M314.5,1266.6 L392,1265.4 459.9,1267.8 527.8,1270.6 595.6,1271.8 682.9,1272.6 760.4,1271.4 838,1272.2 915.5,1269.8 993.1,1271 1070.6,1269.8 1155,1271.4 1206.3,1269.4 1264.5,1268.6 1303.3,1266.6 1351.8,1262.6 1390.5,1258.6 1429.3,1262.6 1468.1,1265.8 1497.2,1259.8 1514.6,1254.5 L1514.6,1279 L314.5,1279 Z" fill="#d2dbee" fill-opacity="0.35" stroke="#d2dbee" stroke-width="1"/>
<rect x="1155" y="1249.5" width="360" height="30" fill="#87afff" fill-opacity="0.22"/>
<rect x="1155" y="1246" width="360" height="5" fill="#87afff" fill-opacity="0.35"/>
<rect x="1152.5" y="1254" width="5" height="21" rx="2" fill="#fff" stroke="#acb8d1"/>
<rect x="1512.5" y="1254" width="5" height="21" rx="2" fill="#fff" stroke="#acb8d1"/>

<!-- ===== fund flow ===== -->
<rect x="1186" y="1412" width="23" height="13" rx="3" fill="#5470c6"/>
<text x="1214" y="1423" fill="#333">主力净流入</text>
<rect x="1280" y="1412" width="23" height="13" rx="3" fill="#91cc75"/>
<text x="1309" y="1423" fill="#333">超大单净流入</text>
<text x="980" y="1447" fill="#6e7079" text-anchor="middle">亿元</text>
<g stroke="#e0e6f1">
<line x1="980" y1="1464" x2="1601" y2="1464"/><line x1="980" y1="1497.5" x2="1601" y2="1497.5"/>
<line x1="980" y1="1530.5" x2="1601" y2="1530.5"/><line x1="980" y1="1564" x2="1601" y2="1564"/>
<line x1="980" y1="1630" x2="1601" y2="1630"/><line x1="980" y1="1663.5" x2="1601" y2="1663.5"/>
</g>
<g fill="#6e7079" text-anchor="end">
<text x="973" y="1468">2</text><text x="973" y="1501.5">1.5</text><text x="973" y="1534.5">1</text>
<text x="973" y="1568">0.5</text><text x="973" y="1601">0</text><text x="973" y="1634">-0.5</text><text x="973" y="1667.5">-1</text>
</g>
<g fill="#26a69a">
<rect x="989.7" y="1597" width="20" height="45.9"/><rect x="1051.8" y="1597" width="20" height="65.8"/><rect x="1113.9" y="1597" width="20" height="27.3"/><rect x="1176" y="1597" width="20" height="10.6"/><rect x="1238.1" y="1597" width="20" height="4.7"/><rect x="1486.5" y="1597" width="20" height="1"/>
</g>
<g fill="#4caf50">
<rect x="1014.4" y="1597" width="20" height="27.3"/><rect x="1076.5" y="1597" width="20" height="63.8"/><rect x="1138.6" y="1597" width="20" height="31.3"/><rect x="1200.7" y="1597" width="20" height="10"/><rect x="1324.9" y="1597" width="20" height="13.3"/><rect x="1449.1" y="1597" width="20" height="2.7"/><rect x="1573.3" y="1597" width="20" height="6"/>
</g>
<g fill="#eb5454">
<rect x="1300.2" y="1537.1" width="20" height="59.9"/><rect x="1362.3" y="1467.3" width="20" height="129.7"/><rect x="1424.4" y="1571.1" width="20" height="25.9"/><rect x="1548.6" y="1596" width="20" height="1" fill="#f4a0a0"/>
</g>
<g fill="#ff9800">
<rect x="1262.8" y="1594.3" width="20" height="2.7"/><rect x="1387" y="1501.9" width="20" height="95.1"/><rect x="1511.2" y="1594.3" width="20" height="2.7"/>
</g>
<line x1="980" y1="1597.5" x2="1601" y2="1597.5" stroke="#6e7079"/>
<g stroke="#6e7079"><line x1="980" y1="1597" x2="980" y2="1602"/><line x1="1104.2" y1="1597" x2="1104.2" y2="1602"/><line x1="1228.4" y1="1597" x2="1228.4" y2="1602"/><line x1="1352.6" y1="1597" x2="1352.6" y2="1602"/><line x1="1476.8" y1="1597" x2="1476.8" y2="1602"/><line x1="1601" y1="1597" x2="1601" y2="1602"/></g>
<g fill="#6e7079" text-anchor="middle">
<text x="1011" y="1680">2026-03-16</text><text x="1135.2" y="1680">2026-03-18</text><text x="1259.4" y="1680">2026-03-20</text><text x="1383.6" y="1680">2026-03-24</text><text x="1507.8" y="1680">2026-03-26</text>
</g>
</svg>

<!-- watermark -->
<div class="a" style="left:1382px;top:3458px;font-size:24px;line-height:28px;color:#fff;text-shadow:0 0 2px rgba(0,0,0,0.7),1px 1px 1px rgba(0,0,0,0.5)">掘金技术社区 @ 爱理财的程序媛</div>

</body></html>
